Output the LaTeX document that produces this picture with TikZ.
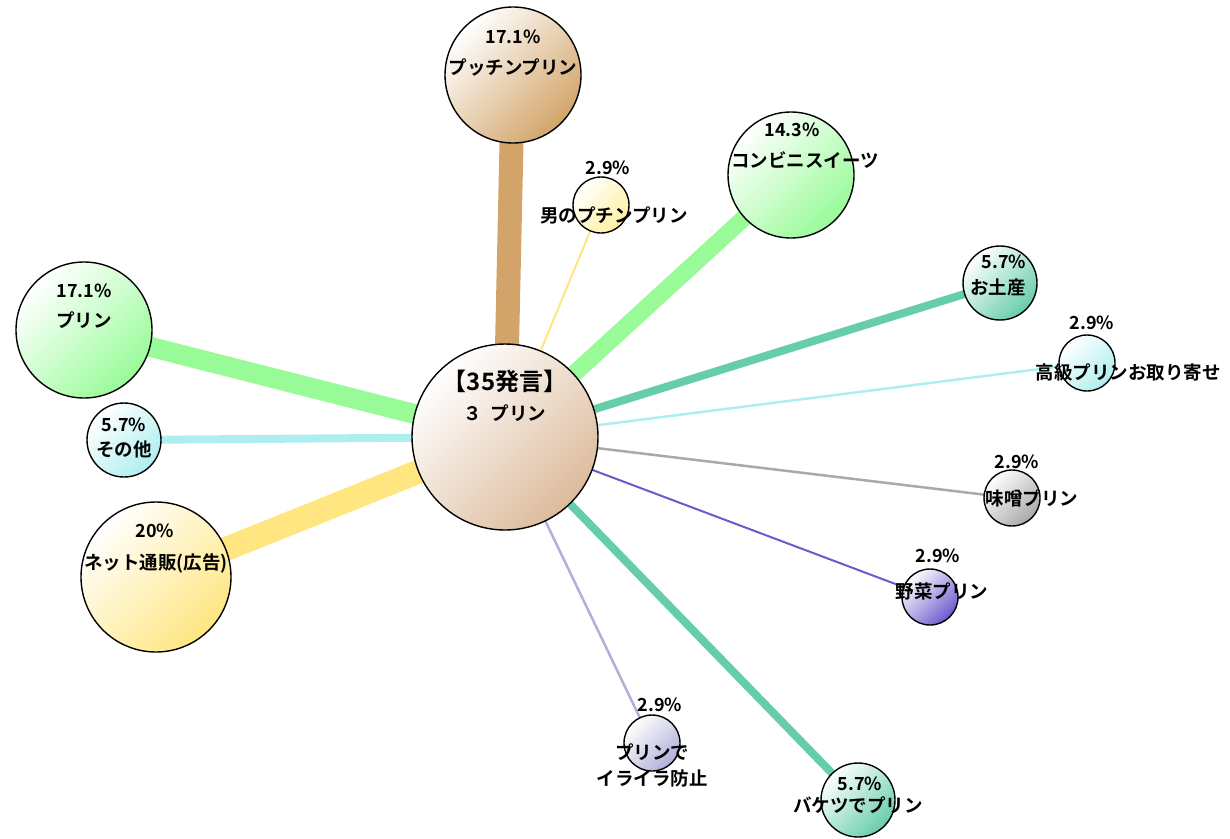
\documentclass[tikz,border=0pt]{standalone}
\usepackage{fontspec}
\setmainfont{Noto Sans CJK JP}[BoldFont={Noto Sans CJK JP Bold}]
\usetikzlibrary{backgrounds}

\definecolor{ptan}{HTML}{D2A469}
\definecolor{phub}{HTML}{DDBB9C}
\definecolor{pyellow}{HTML}{FFE680}
\definecolor{ppale}{HTML}{FFF0A0}
\definecolor{pgreen}{HTML}{98FB98}
\definecolor{pteal}{HTML}{66CDAA}
\definecolor{pcyan}{HTML}{AFEEEE}
\definecolor{pgray}{HTML}{A9A9A9}
\definecolor{pslate}{HTML}{6A5ACD}
\definecolor{plav}{HTML}{B0B0D8}

\tikzset{
  bubble/.style={circle, draw=black, line width=1.4pt, inner sep=0pt,
    minimum size=#1},
  tint/.style={top color=white, bottom color=#1, shading angle=45},
  pct/.style={font=\bfseries\fontsize{18}{20}\selectfont, inner sep=0pt},
  word/.style={font=\bfseries\fontsize{18.5}{26}\selectfont, inner sep=0pt, align=center},
  link/.style={line width=#1}
}

\begin{document}
\begin{tikzpicture}[x=1pt, y=-1pt]
            \useasboundingbox (0,0) rectangle (1230,838);

            % circles
            \node[bubble=186pt, tint=phub] (hub) at (505,437) {};
            \node[bubble=136pt, tint=ptan] (putchin) at (513,75) {};
            \node[bubble=56pt, tint=ppale] (otoko) at (601,205) {};
            \node[bubble=126pt, tint=pgreen] (konbini) at (791,175) {};
            \node[bubble=74pt, tint=pteal] (miyage) at (1000,283) {};
            \node[bubble=56pt, tint=pcyan] (kokyu) at (1087,363) {};
            \node[bubble=56pt, tint=pgray] (miso) at (1012,498) {};
            \node[bubble=56pt, tint=pslate] (yasai) at (930,597) {};
            \node[bubble=74pt, tint=pteal] (baketsu) at (858,800) {};
            \node[bubble=56pt, tint=plav] (iraira) at (652,743) {};
            \node[bubble=150pt, tint=pyellow] (netto) at (156,577) {};
            \node[bubble=74pt, tint=pcyan] (sonota) at (124,440) {};
            \node[bubble=136pt, tint=pgreen] (purin) at (84,330) {};

            % links
            \begin{pgfonlayer}{background}
            \draw[link=24pt, ptan] (hub.center) -- (putchin.center);
            \draw[link=2pt, pyellow] (hub.center) -- (otoko.center);
            \draw[link=17pt, pgreen] (hub.center) -- (konbini.center);
            \draw[link=8pt, pteal] (hub.center) -- (miyage.center);
            \draw[link=2.5pt, pcyan] (hub.center) -- (kokyu.center);
            \draw[link=2.5pt, pgray] (hub.center) -- (miso.center);
            \draw[link=2pt, pslate] (hub.center) -- (yasai.center);
            \draw[link=2.5pt, plav] (hub.center) -- (iraira.center);
            \draw[link=8pt, pteal] (hub.center) -- (baketsu.center);
            \draw[link=24pt, pyellow] (hub.center) -- (netto.center);
            \draw[link=8pt, pcyan] (hub.center) -- (sonota.center);
            \draw[link=20pt, pgreen] (hub.center) -- (purin.center);
            \end{pgfonlayer}

            % labels
            \node[font=\bfseries\fontsize{24}{26}\selectfont, inner sep=0pt] (hubtitle) at (505,381) {【35発言】};
            \node[word] (hubname) at (505,413) {３\ \ プリン};
            \node[pct] (putchinp) at (513,37) {17.1\%};
            \node[word] (putchinw) at (513,67) {プッチンプリン};
            \node[pct] (otokop) at (608,168) {2.9\%};
            \node[word] (otokow) at (614,215) {男のプチンプリン};
            \node[pct] (konbinip) at (792,130) {14.3\%};
            \node[word] (konbiniw) at (805,160) {コンビニスイーツ};
            \node[pct] (miyagep) at (1004,262) {5.7\%};
            \node[word] (miyagew) at (998,287) {お土産};
            \node[pct] (kokyup) at (1092,323) {2.9\%};
            \node[word] (kokyuw) at (1128,372) {高級プリンお取り寄せ};
            \node[pct] (misop) at (1017,462) {2.9\%};
            \node[word] (misow) at (1032,498) {味噌プリン};
            \node[pct] (yasaip) at (938,556) {2.9\%};
            \node[word] (yasaiw) at (942,591) {野菜プリン};
            \node[pct] (irairap) at (660,705) {2.9\%};
            \node[word] (irairaw) at (652,765) {プリンで\\イライラ防止};
            \node[pct] (baketsup) at (860,784) {5.7\%};
            \node[word] (baketsuw) at (858,805) {バケツでプリン};
            \node[pct] (nettop) at (155,531) {20\%};
            \node[word] (nettow) at (156,563) {ネット通販(広告)};
            \node[pct] (sonotap) at (124,425) {5.7\%};
            \node[word] (sonotaw) at (124,449) {その他};
            \node[pct] (purinp) at (84,291) {17.1\%};
            \node[word] (purinw) at (84,320) {プリン};
\end{tikzpicture}
\end{document}
